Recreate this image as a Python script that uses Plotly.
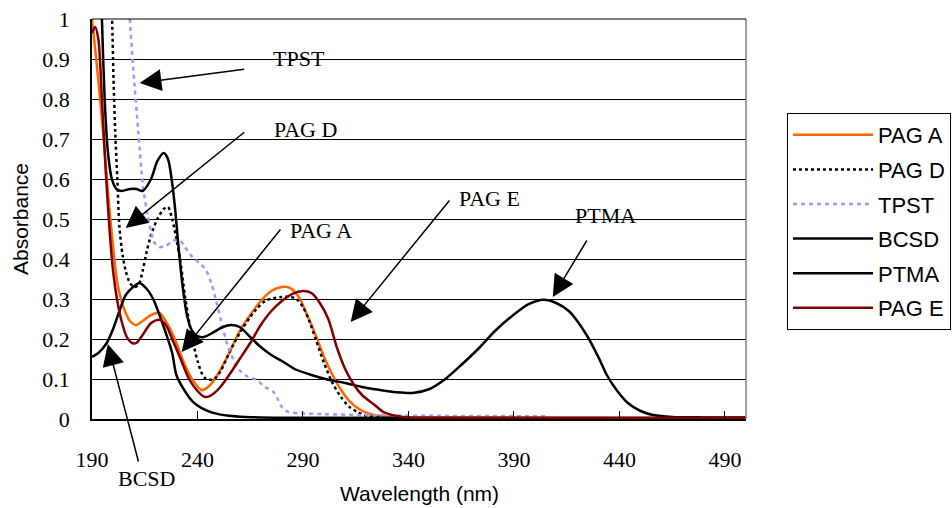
import plotly.graph_objects as go

# ---- absorbance spectra (wavelength in nm, absorbance) ----
pag_a_nm = [190, 192, 194, 196, 198, 200, 202, 204, 206, 208, 211, 214, 218, 222, 226, 230,
            234, 238, 242, 246, 250, 255, 260, 265, 270, 275, 280, 284, 288, 292, 296, 300,
            304, 308, 312, 316, 320, 326, 335, 350, 500]
pag_a_abs = [1.0, 0.90, 0.79, 0.67, 0.54, 0.43, 0.34, 0.295, 0.265, 0.245, 0.235, 0.245, 0.26,
             0.265, 0.235, 0.19, 0.135, 0.095, 0.072, 0.085, 0.115, 0.165, 0.22, 0.26, 0.295,
             0.32, 0.33, 0.327, 0.305, 0.26, 0.21, 0.155, 0.11, 0.073, 0.045, 0.027, 0.016,
             0.008, 0.004, 0.003, 0.002]

pag_d_nm = [198.5, 199.5, 200.2, 201, 202, 203, 204.5, 206, 208, 210, 212, 214, 216, 218, 221,
            224, 226, 228, 230, 232, 234, 236, 238, 240, 242, 244, 246, 248, 251, 255, 260,
            265, 268, 272, 276, 280, 284, 287, 290, 293, 296, 300, 304, 308, 312, 316, 320,
            326, 340, 500]
pag_d_abs = [1.1, 1.0, 0.85, 0.72, 0.60, 0.48, 0.41, 0.37, 0.34, 0.33, 0.335, 0.37, 0.42, 0.46,
             0.50, 0.525, 0.53, 0.50, 0.45, 0.39, 0.31, 0.245, 0.19, 0.145, 0.115, 0.10, 0.098,
             0.10, 0.12, 0.165, 0.215, 0.255, 0.275, 0.295, 0.302, 0.305, 0.305, 0.30, 0.28,
             0.245, 0.20, 0.14, 0.09, 0.055, 0.03, 0.017, 0.008, 0.004, 0.002, 0.002]

tpst_nm = [205, 208, 209.5, 212, 214, 216.5, 219.7, 222, 225, 228, 231.5, 234, 237.6, 241, 244,
           246.5, 248.8, 251.9, 255, 259.8, 264, 268, 272, 276, 278, 280, 283, 290, 300, 318,
           350, 405]
tpst_abs = [1.4, 1.0, 0.88, 0.715, 0.59, 0.505, 0.44, 0.43, 0.4325, 0.445, 0.4475, 0.43, 0.405,
            0.39, 0.3725, 0.34, 0.2975, 0.23, 0.1725, 0.1225, 0.105, 0.098, 0.08, 0.068, 0.05,
            0.03, 0.018, 0.014, 0.012, 0.01, 0.008, 0.007]

bcsd_nm = [190, 193, 197, 200, 203, 206, 209.5, 212.5, 216, 219, 222, 225, 228, 230, 234, 238,
           242, 247, 255, 263, 280, 500]
bcsd_abs = [0.155, 0.165, 0.19, 0.225, 0.27, 0.31, 0.33, 0.34, 0.325, 0.30, 0.26, 0.215, 0.165,
            0.11, 0.07, 0.042, 0.027, 0.016, 0.008, 0.005, 0.003, 0.002]

ptma_nm = [193, 194.7, 196, 197.5, 199.4, 201.6, 204, 208, 211, 214, 218, 221, 224, 226, 228,
           229.5, 231, 233, 235, 237, 240, 243, 247, 252, 256, 260, 265, 270, 275, 280, 286,
           294, 302, 310, 318, 326, 334, 342, 350, 357, 365, 373, 381, 389, 397, 404, 410,
           416, 420, 425, 430, 434, 439, 444, 450, 456, 465, 480, 500]
ptma_abs = [1.3, 1.0, 0.80, 0.67, 0.60, 0.575, 0.57, 0.575, 0.575, 0.57, 0.60, 0.645, 0.665,
            0.65, 0.59, 0.52, 0.43, 0.33, 0.26, 0.225, 0.207, 0.205, 0.215, 0.23, 0.235, 0.23,
            0.205, 0.18, 0.16, 0.145, 0.125, 0.11, 0.098, 0.09, 0.08, 0.073, 0.067, 0.065,
            0.075, 0.098, 0.135, 0.175, 0.22, 0.257, 0.287, 0.298, 0.29, 0.27, 0.245, 0.205,
            0.155, 0.11, 0.07, 0.04, 0.02, 0.01, 0.005, 0.004, 0.004]

pag_e_nm = [190, 191.5, 193, 194.7, 196.5, 198.5, 200, 202, 204, 206.5, 209, 211, 214, 218, 222,
            225, 228, 232, 236, 240, 243.5, 246, 250, 255, 260, 265, 270, 275, 280, 285, 290,
            294, 298, 302, 306, 310, 314, 318, 324, 328, 334, 340, 360, 500]
pag_e_abs = [0.965, 0.98, 0.95, 0.80, 0.62, 0.46, 0.37, 0.295, 0.245, 0.205, 0.19, 0.19, 0.21,
             0.24, 0.248, 0.235, 0.20, 0.15, 0.10, 0.07, 0.055, 0.058, 0.075, 0.11, 0.15, 0.19,
             0.235, 0.27, 0.295, 0.313, 0.32, 0.315, 0.29, 0.25, 0.18, 0.125, 0.087, 0.06,
             0.035, 0.018, 0.008, 0.004, 0.003, 0.003]

x_ticks = [190, 240, 290, 340, 390, 440, 490]

series = [
    ("PAG A", pag_a_nm, pag_a_abs, "#FF6600", "solid"),
    ("PAG D", pag_d_nm, pag_d_abs, "#000000", "3px,3px"),
    ("TPST", tpst_nm, tpst_abs, "#9999FF", "4px,4px"),
    ("BCSD", bcsd_nm, bcsd_abs, "#000000", "solid"),
    ("PTMA", ptma_nm, ptma_abs, "#000000", "solid"),
    ("PAG E", pag_e_nm, pag_e_abs, "#800000", "solid"),
]

# ---- callout labels: (text, label position, arrow tip, tail offset in px) ----
callouts = [
    ("TPST", (288.1, 0.9025), (212.6, 0.84), (106, -14)),
    ("PAG D", (291.4, 0.725), (206.0, 0.4775), (120, -97)),
    ("PAG A", (298.5, 0.4725), (232.5, 0.1675), (100, -124)),
    ("PAG E", (378.2, 0.55), (312.6, 0.2425), (100, -123)),
    ("PTMA", (433.4, 0.51), (408.4, 0.305), (35, -58)),
    ("BCSD", (215.9, -0.15), (197.5, 0.1875), (31, 119)),
]

SERIF = "Liberation Serif"
SANS = "Liberation Sans"

fig = go.Figure()
for i, (name, xs, ys, color, dash) in enumerate(series):
    fig.add_trace(go.Scatter(
        x=xs, y=ys, name=name, mode="lines", legendgroup=f"g{i}",
        line=dict(color=color, width=2.5, dash=dash, shape="spline", smoothing=0.8),
    ))

annotations = []
for text, (lx, ly), (tx, ty), (ax, ay) in callouts:
    annotations.append(dict(
        x=tx, y=ty, xref="x", yref="y", text="", showarrow=True,
        ax=ax, ay=ay, arrowhead=2, arrowsize=2.9, arrowwidth=1.5, arrowcolor="black",
        standoff=0,
    ))
    annotations.append(dict(
        x=lx, y=ly, xref="x", yref="paper", text=text, showarrow=False,
        xanchor="center", yanchor="middle",
        font=dict(family=SERIF, size=22, color="black"),
    ))

# axis titles
annotations.append(dict(
    x=0.5, y=-0.185, xref="paper", yref="paper", text="Wavelength (nm)", showarrow=False,
    xanchor="center", yanchor="middle", font=dict(family=SANS, size=21, color="black"),
))
annotations.append(dict(
    x=-0.110, y=0.5, xref="paper", yref="paper", text="Absorbance", showarrow=False,
    textangle=-90, xanchor="center", yanchor="middle",
    font=dict(family=SANS, size=21, color="black"),
))

fig.update_layout(
    width=952, height=508,
    margin=dict(l=92, r=206, t=19, b=89, autoexpand=False),
    paper_bgcolor="white", plot_bgcolor="white",
    showlegend=True,
    legend=dict(
        x=1.0627, y=0.765, xanchor="left", yanchor="top",
        bordercolor="black", borderwidth=1, bgcolor="white",
        font=dict(family=SANS, size=22, color="black"),
        tracegroupgap=3, itemwidth=80,
    ),
    annotations=annotations,
    shapes=[dict(type="line", xref="paper", yref="paper", x0=1, x1=1, y0=0, y1=1,
                 line=dict(color="#808080", width=1.5)),
            dict(type="line", xref="paper", yref="paper", x0=0, x1=1, y0=1, y1=1,
                 line=dict(color="black", width=1.2))],
    xaxis=dict(
        range=[190, 500], tickvals=x_ticks, ticktext=[str(v) for v in x_ticks],
        showgrid=False, zeroline=False, showline=True, linecolor="black", linewidth=1.5,
        ticks="inside", ticklen=8, tickcolor="black", ticklabelstandoff=20,
        tickfont=dict(family=SERIF, size=22, color="black"),
    ),
    yaxis=dict(
        range=[0, 1], dtick=0.1, tick0=0,
        showgrid=True, gridcolor="black", gridwidth=1.2, zeroline=False,
        showline=True, linecolor="black", linewidth=1.5, ticks="",
        ticklabelstandoff=16,
        tickfont=dict(family=SERIF, size=22, color="black"),
    ),
)

fig.write_html("out.html")
